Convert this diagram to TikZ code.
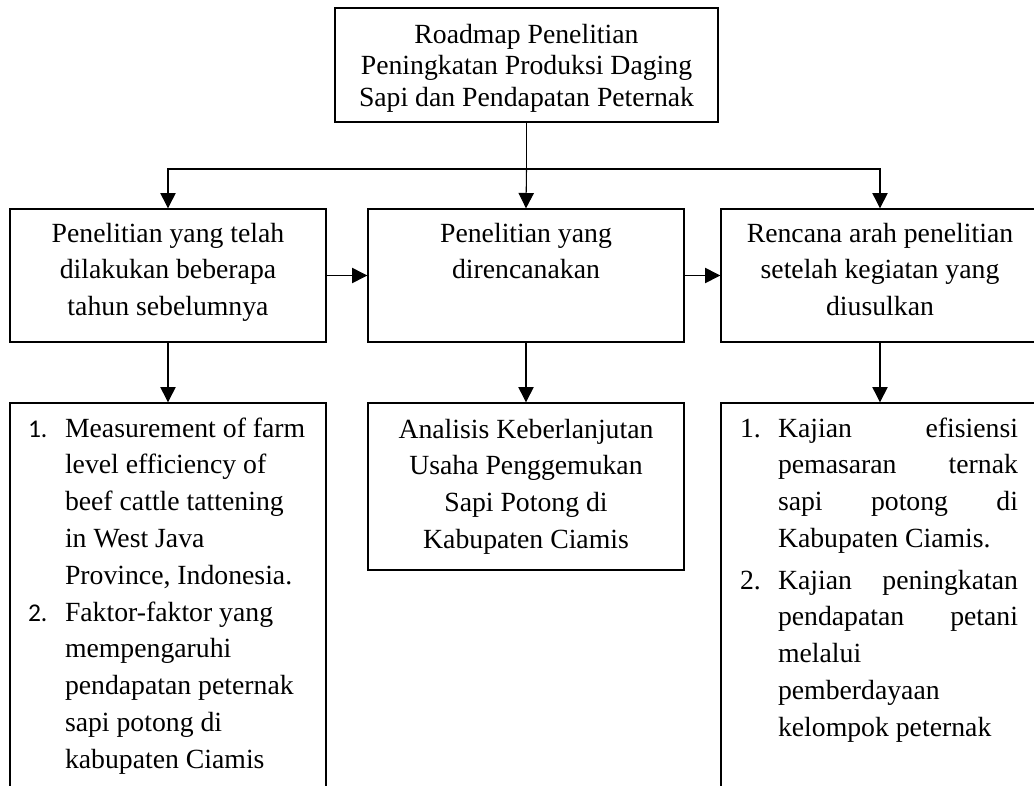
\documentclass[tikz,border=0pt]{standalone}
\usepackage{fontspec}
\setmainfont{Liberation Serif}
\newfontfamily\numfont[Scale=0.92]{Carlito}
\usetikzlibrary{arrows.meta}
\newcommand{\bodyfont}{\fontsize{20.8pt}{27.6pt}\selectfont}
\newcommand{\topfont}{\fontsize{20.8pt}{23.8pt}\selectfont}
\begin{document}
\begin{tikzpicture}[x=0.75pt,y=-0.75pt,
  box/.style={draw, rectangle, line width=1.2pt, inner sep=0pt, outer sep=0.5pt},
  conn/.style={line width=0.8pt, -{Triangle[width=11.5pt,length=11.5pt]}},
  txt/.style={inner sep=0pt, outer sep=0pt, anchor=base, font=\bodyfont},
  lst/.style={inner sep=0pt, outer sep=0pt, anchor=base west, font=\bodyfont}]
\path[use as bounding box] (0,0) rectangle (1034,785);
\clip (0,0) rectangle (1034,785);
% boxes
\node[box, minimum width=287.25pt, minimum height=85.5pt] (top) at (526.5,65) {};
\node[box, minimum width=237pt, minimum height=99.75pt] (b1) at (168,275.5) {};
\node[box, minimum width=237pt, minimum height=99.75pt] (b2) at (526,275.5) {};
\node[box, minimum width=238.5pt, minimum height=99.75pt] (b3) at (880,275.5) {};
\node[box, minimum width=237pt, minimum height=312.75pt] (c1) at (168,611.5) {};
\node[box, minimum width=237pt, minimum height=125.25pt] (c2) at (526,486.5) {};
\node[box, minimum width=238.5pt, minimum height=312.75pt] (c3) at (880,611.5) {};
% texts
\node[txt, font=\topfont] (ttop) at (526.5,43) {\parbox[t]{287pt}{\centering Roadmap Penelitian\\ Peningkatan Produksi Daging\\ Sapi dan Pendapatan Peternak}};
\node[txt] (tb1) at (168,242) {\parbox[t]{237pt}{\centering Penelitian yang telah\\ dilakukan beberapa\\ tahun sebelumnya}};
\node[txt] (tb2) at (526,242) {\parbox[t]{237pt}{\centering Penelitian yang\\ direncanakan}};
\node[txt] (tb3) at (880,242) {\parbox[t]{237pt}{\centering Rencana arah penelitian\\ setelah kegiatan yang\\ diusulkan}};
\node[txt] (tc2) at (526,438) {\parbox[t]{237pt}{\centering Analisis Keberlanjutan\\ Usaha Penggemukan\\ Sapi Potong di\\ Kabupaten Ciamis}};
% left list
\node[lst] (l1n) at (28,437) {\numfont 1.};
\node[lst] (l1) at (65,437) {\parbox[t]{190pt}{\raggedright Measurement of farm\\ level efficiency of\\ beef cattle tattening\\ in West Java\\ Province, Indonesia.}};
\node[lst] (l2n) at (28,621) {\numfont 2.};
\node[lst] (l2) at (65,621) {\parbox[t]{190pt}{\raggedright Faktor-faktor yang\\ mempengaruhi\\ pendapatan peternak\\ sapi potong di\\ kabupaten Ciamis}};
% right list
\node[lst] (r1n) at (740,437) {1.};
\node[lst] (r1) at (778,437) {\parbox[t]{180pt}{Kajian\hfill efisiensi\\ pemasaran\hfill ternak\\ sapi\hfill potong\hfill di\\ Kabupaten Ciamis.}};
\node[lst] (r2n) at (740,589) {2.};
\node[lst] (r2) at (778,589) {\parbox[t]{180pt}{Kajian\hfill peningkatan\\ pendapatan\hfill petani\\ melalui\\ pemberdayaan\\ kelompok peternak}};
% connectors
\coordinate (j) at (526.5,169);
\draw[line width=0.8pt] (top.south) -- (j);
\draw[conn] (j) -| (b1.north);
\draw[conn] (j) -- (b2.north);
\draw[conn] (j) -| (b3.north);
\draw[conn] (b1.east) -- (b2.west);
\draw[conn] (b2.east) -- (b3.west);
\draw[conn] (b1.south) -- (c1.north);
\draw[conn] (b2.south) -- (c2.north);
\draw[conn] (b3.south) -- (c3.north);
\end{tikzpicture}
\end{document}
